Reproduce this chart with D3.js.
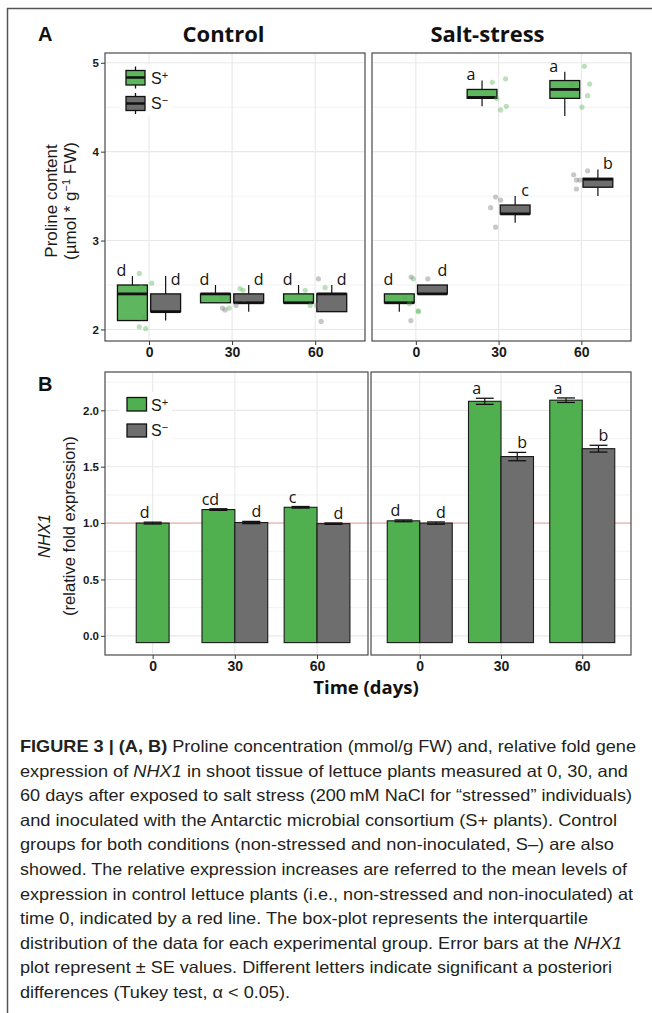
<!DOCTYPE html>
<html><head><meta charset="utf-8">
<script src="https://cdn.jsdelivr.net/npm/d3@7"></script>
<style>body{margin:0;background:#fff}</style>
</head><body><svg id="c" width="652" height="1013"></svg>
<script>
// ---------------- DATA ----------------
const times = ["0", "30", "60"];
const groups = ["S+", "S−"];
const conditions = ["Control", "Salt-stress"];
const prolineTicks = [2, 3, 4, 5];
const nhxTicks = [0.0, 0.5, 1.0, 1.5, 2.0];

// Proline box stats per time: [lower whisker, Q1, median, Q3, upper whisker]
const prolineControlSplus  = [[2.1, 2.1, 2.4, 2.5, 2.6], [2.3, 2.3, 2.4, 2.4, 2.5], [2.3, 2.3, 2.3, 2.4, 2.5]];
const prolineControlSminus = [[2.1, 2.2, 2.2, 2.4, 2.6], [2.2, 2.3, 2.3, 2.4, 2.5], [2.2, 2.2, 2.4, 2.4, 2.5]];
const prolineSaltSplus     = [[2.2, 2.3, 2.3, 2.4, 2.4], [4.51, 4.6, 4.61, 4.7, 4.8], [4.4, 4.6, 4.7, 4.8, 4.9]];
const prolineSaltSminus    = [[2.4, 2.4, 2.4, 2.5, 2.5], [3.2, 3.3, 3.3, 3.4, 3.5], [3.5, 3.6, 3.69, 3.7, 3.8]];

// Raw observations: [time index, x jitter (category units), value]
const obsControlSplus  = [[0,-0.117,2.63],[0,-0.096,2.48],[0,0.033,2.52],[0,-0.057,2.14],[0,-0.117,2.03],[0,-0.04,2.01],
                          [1,-0.124,2.35],[1,-0.064,2.35],[1,-0.036,2.24],[1,0.096,2.46],[1,0.133,2.44],
                          [2,-0.12,2.44],[2,-0.06,2.27],[2,0.12,2.47]];
const obsControlSminus = [[0,0.1,2.28],
                          [1,-0.117,2.24],[1,-0.084,2.22],[1,0.048,2.27],[1,0.148,2.34],
                          [2,0.04,2.57],[2,0.072,2.09],[2,0.02,2.27]];
const obsSaltSplus     = [[0,-0.03,2.57],[0,-0.13,2.36],[0,-0.077,2.29],[0,0.028,2.21],[0,0.031,2.2],
                          [1,-0.076,4.78],[1,0.084,4.82],[1,-0.024,4.60],[1,0.024,4.47],[1,0.093,4.51],
                          [2,0.036,4.96],[2,0.1,4.76],[2,0.076,4.63],[2,0.008,4.50],[2,-0.112,4.75]];
const obsSaltSminus    = [[0,-0.057,2.59],[0,-0.06,2.1],[0,0.145,2.57],
                          [1,-0.036,3.49],[1,0.024,3.455],[1,-0.096,3.37],[1,-0.036,3.15],
                          [2,-0.093,3.74],[2,-0.06,3.68],[2,-0.02,3.68],[2,0.076,3.785],[2,-0.06,3.58]];

const prolineLettersControlSplus  = ["d", "d", "d"];
const prolineLettersControlSminus = ["d", "d", "d"];
const prolineLettersSaltSplus     = ["d", "a", "a"];
const prolineLettersSaltSminus    = ["d", "c", "b"];

// NHX1 relative fold expression (mean, SE)
const nhxControlSplus    = [1.00, 1.12, 1.14];
const nhxControlSplusSE  = [0.008, 0.007, 0.007];
const nhxControlSminus   = [null, 1.005, 0.995];
const nhxControlSminusSE = [null, 0.01, 0.006];
const nhxSaltSplus       = [1.02, 2.08, 2.09];
const nhxSaltSplusSE     = [0.008, 0.027, 0.02];
const nhxSaltSminus      = [1.00, 1.59, 1.66];
const nhxSaltSminusSE    = [0.01, 0.037, 0.03];
const nhxLettersControlSplus  = ["d", "cd", "c"];
const nhxLettersControlSminus = [null, "d", "d"];
const nhxLettersSaltSplus     = ["d", "a", "a"];
const nhxLettersSaltSminus    = ["d", "b", "b"];
const nhxReference = 1.0;
const nhxBarBase = -0.06;

// ---------------- STYLE ----------------
const GREEN_BOX = "#5eb75e", GREEN_BAR = "#50af4e", GREY = "#6e6e6e";
const GRID = "#e8e8e8", BORDER = "#4a4a4a";
const svg = d3.select("#c");
const W = 652, H = 1013;

// figure frame
svg.append("line").attr("x1", 7).attr("x2", W).attr("y1", 8.5).attr("y2", 8.5).attr("stroke", "#555").attr("stroke-width", 1.5);
svg.append("line").attr("x1", 7.5).attr("x2", 7.5).attr("y1", 8).attr("y2", H).attr("stroke", "#555").attr("stroke-width", 1.5);

const yA = d3.scaleLinear().domain([1.87, 5.11]).range([341, 53]);
const yB = d3.scaleLinear().domain([-0.17, 2.34]).range([655, 372]);
const xAL = d3.scaleLinear().domain([0.47, 3.6]).range([105, 365]);
const xAR = d3.scaleLinear().domain([0.47, 3.6]).range([372, 631]);
const xBL = d3.scaleLinear().domain([0.42, 3.62]).range([105, 368]);
const xBR = d3.scaleLinear().domain([0.4, 3.6]).range([371, 631]);

function panelBase(x, y, majors, minors, showY) {
  const [x0, x1] = x.range(), [y0, y1] = y.range();
  const g = svg.append("g");
  g.append("rect").attr("x", x0).attr("y", y1).attr("width", x1 - x0).attr("height", y0 - y1).attr("fill", "#fff");
  g.selectAll(".mn").data(minors.filter(v => v >= y.domain()[0] && v <= y.domain()[1])).join("line")
    .attr("x1", x0).attr("x2", x1).attr("y1", d => y(d)).attr("y2", d => y(d)).attr("stroke", "#efefef").attr("stroke-width", 0.8);
  g.selectAll(".mj").data(majors).join("line")
    .attr("x1", x0).attr("x2", x1).attr("y1", d => y(d)).attr("y2", d => y(d)).attr("stroke", GRID).attr("stroke-width", 1.1);
  g.selectAll(".vx").data([1, 2, 3]).join("line")
    .attr("x1", d => x(d)).attr("x2", d => x(d)).attr("y1", y1).attr("y2", y0).attr("stroke", GRID).attr("stroke-width", 1.1);
  // x axis
  const ax = svg.append("g").attr("transform", `translate(0,${y0})`)
    .call(d3.axisBottom(x).tickValues([1, 2, 3]).tickFormat(i => times[i - 1]).tickSize(4).tickPadding(2));
  ax.select(".domain").remove();
  ax.selectAll(".tick line").attr("stroke", "#333");
  ax.selectAll("text").attr("font-family", "Liberation Sans, Arial, sans-serif").attr("font-weight", "bold").attr("font-size", 14).attr("fill", "#1a1a1a");
  if (showY) {
    const ay = svg.append("g").attr("transform", `translate(${x0},0)`)
      .call(d3.axisLeft(y).tickValues(majors).tickFormat(showY).tickSize(4).tickPadding(2));
    ay.select(".domain").remove();
    ay.selectAll(".tick line").attr("stroke", "#333");
    ay.selectAll("text").attr("font-family", "Liberation Sans, Arial, sans-serif").attr("font-weight", "bold").attr("font-size", 11.5).attr("fill", "#1a1a1a");
  }
  return g;
}
function panelBorder(x, y) {
  const [x0, x1] = x.range(), [y0, y1] = y.range();
  svg.append("rect").attr("x", x0).attr("y", y1).attr("width", x1 - x0).attr("height", y0 - y1)
    .attr("fill", "none").attr("stroke", BORDER).attr("stroke-width", 1.2);
}

// ---------------- PANEL A (boxplots) ----------------
const dodgeA = 0.2, boxW = 0.36;
function boxPanel(x, stats, obs, letters, showY) {
  panelBase(x, yA, prolineTicks, [1.5, 2.5, 3.5, 4.5, 5.5], showY);
  const g = svg.append("g");
  [0, 1].forEach(k => {
    const col = k === 0 ? GREEN_BOX : GREY;
    const off = k === 0 ? -dodgeA : dodgeA;
    stats[k].forEach((s, i) => {
      const cx = x(i + 1 + off), hw = (x(boxW) - x(0)) / 2;
      g.append("line").attr("x1", cx).attr("x2", cx).attr("y1", yA(s[0])).attr("y2", yA(s[4])).attr("stroke", "#111").attr("stroke-width", 1.2);
      g.append("rect").attr("x", cx - hw).attr("width", 2 * hw).attr("y", yA(s[3])).attr("height", yA(s[1]) - yA(s[3]))
        .attr("fill", col).attr("stroke", "#111").attr("stroke-width", 1.3);
      g.append("line").attr("x1", cx - hw).attr("x2", cx + hw).attr("y1", yA(s[2])).attr("y2", yA(s[2])).attr("stroke", "#111").attr("stroke-width", 2.8);
      g.append("text").attr("x", cx + (k === 0 ? -11 : 10)).attr("y", yA(s[3]) - 9).attr("text-anchor", "middle")
        .attr("font-family", "Open Sans, sans-serif").attr("font-size", 16).attr("fill", "#111").text(letters[k][i]);
    });
  });
  [0, 1].forEach(k => {
    g.selectAll(null).data(obs[k]).join("circle")
      .attr("cx", d => x(d[0] + 1 + d[1])).attr("cy", d => yA(d[2])).attr("r", 2.6)
      .attr("fill", k === 0 ? "#4daf4a" : "#6e6e6e").attr("opacity", 0.38);
  });
  panelBorder(x, yA);
}
boxPanel(xAL, [prolineControlSplus, prolineControlSminus], [obsControlSplus, obsControlSminus],
  [prolineLettersControlSplus, prolineLettersControlSminus], d => d3.format("d")(d));
boxPanel(xAR, [prolineSaltSplus, prolineSaltSminus], [obsSaltSplus, obsSaltSminus],
  [prolineLettersSaltSplus, prolineLettersSaltSminus], null);

// legend A
const lgA = svg.append("g");
lgA.append("rect").attr("x", 120).attr("y", 64).attr("width", 52).attr("height", 52).attr("fill", "#fff");
[[GREEN_BOX, 70.5, 85, 77.5, 66.5, 88.5, 83.5], [GREY, 96.5, 110.5, 103.5, 93, 114, 108.5]].forEach((r, k) => {
  lgA.append("line").attr("x1", 135.5).attr("x2", 135.5).attr("y1", r[4]).attr("y2", r[5]).attr("stroke", "#111").attr("stroke-width", 1.3);
  lgA.append("rect").attr("x", 126).attr("y", r[1]).attr("width", 19).attr("height", r[2] - r[1]).attr("fill", r[0]).attr("stroke", "#111").attr("stroke-width", 1.3);
  lgA.append("line").attr("x1", 126).attr("x2", 145).attr("y1", r[3]).attr("y2", r[3]).attr("stroke", "#111").attr("stroke-width", 2.5);
  const t = lgA.append("text").attr("x", 151).attr("y", r[6]).attr("font-family", "Liberation Sans, Arial, sans-serif").attr("font-size", 16).attr("fill", "#1a1a1a");
  t.append("tspan").text(groups[k][0]);
  t.append("tspan").attr("font-size", 11).attr("dy", -5).text(k === 0 ? "+" : "−");
});

// ---------------- PANEL B (bars) ----------------
const barW = 0.4;
function barPanel(x, means, ses, letters, showY) {
  panelBase(x, yB, nhxTicks, [-0.25, 0.25, 0.75, 1.25, 1.75, 2.25], showY);
  return () => {
    const g = svg.append("g");
    [0, 1].forEach(k => {
      means[k].forEach((m, i) => {
        if (m === null) return;
        const other = means[1 - k][i];
        const off = other === null ? 0 : (k === 0 ? -barW / 2 : barW / 2);
        const cx = x(i + 1 + off), hw = (x(barW) - x(0)) / 2;
        g.append("rect").attr("x", cx - hw).attr("width", 2 * hw).attr("y", yB(m)).attr("height", yB(nhxBarBase) - yB(m))
          .attr("fill", k === 0 ? GREEN_BAR : GREY).attr("stroke", "#1a1a1a").attr("stroke-width", 1.1);
        const se = ses[k][i], ew = (x(0.22) - x(0)) / 2;
        g.append("line").attr("x1", cx).attr("x2", cx).attr("y1", yB(m - se)).attr("y2", yB(m + se)).attr("stroke", "#111").attr("stroke-width", 1.2);
        [m - se, m + se].forEach(v => g.append("line").attr("x1", cx - ew).attr("x2", cx + ew).attr("y1", yB(v)).attr("y2", yB(v)).attr("stroke", "#111").attr("stroke-width", 1.3));
        g.append("text").attr("x", cx + (k === 0 ? -8 : 5)).attr("y", yB(m + se) - 4).attr("text-anchor", "middle")
          .attr("font-family", "Open Sans, sans-serif").attr("font-size", 16).attr("fill", "#111").text(letters[k][i]);
      });
    });
    panelBorder(x, yB);
  };
}
const finL = barPanel(xBL, [nhxControlSplus, nhxControlSminus], [nhxControlSplusSE, nhxControlSminusSE],
  [nhxLettersControlSplus, nhxLettersControlSminus], d => d3.format(".1f")(d));
const finR = barPanel(xBR, [nhxSaltSplus, nhxSaltSminus], [nhxSaltSplusSE, nhxSaltSminusSE],
  [nhxLettersSaltSplus, nhxLettersSaltSminus], null);
// reference line
svg.append("line").attr("x1", 105).attr("x2", 631).attr("y1", yB(nhxReference)).attr("y2", yB(nhxReference))
  .attr("stroke", "#f08080").attr("stroke-opacity", 0.7).attr("stroke-width", 1);
finL(); finR();

// legend B
const lgB = svg.append("g");
lgB.append("rect").attr("x", 119).attr("y", 392).attr("width", 53).attr("height", 48).attr("fill", "#fff");
[[GREEN_BAR, 397.5, 411, 410.7], [GREY, 424, 437, 435.7]].forEach((r, k) => {
  lgB.append("rect").attr("x", 127).attr("y", r[1]).attr("width", 19.5).attr("height", r[2] - r[1]).attr("fill", r[0]).attr("stroke", "#111").attr("stroke-width", 1.3);
  const t = lgB.append("text").attr("x", 151).attr("y", r[3]).attr("font-family", "Liberation Sans, Arial, sans-serif").attr("font-size", 16).attr("fill", "#1a1a1a");
  t.append("tspan").text(groups[k][0]);
  t.append("tspan").attr("font-size", 11).attr("dy", -5).text(k === 0 ? "+" : "−");
});

// ---------------- TITLES ----------------
const bold = (x, y, s, size, fam, anchor) => svg.append("text").attr("x", x).attr("y", y).attr("font-family", fam)
  .attr("font-weight", "bold").attr("font-size", size).attr("text-anchor", anchor || "start").attr("fill", "#111").text(s);
bold(38, 40.5, "A", 20, "Liberation Sans, Arial, sans-serif");
bold(38, 390.5, "B", 20, "Liberation Sans, Arial, sans-serif");
bold(223.5, 42, conditions[0], 22, "Open Sans, sans-serif", "middle");
bold(487.5, 42, conditions[1], 22, "Open Sans, sans-serif", "middle");
bold(366, 694, "Time (days)", 18.5, "Open Sans, sans-serif", "middle");

function vtext(x, y, size) {
  return svg.append("text").attr("transform", `translate(${x},${y}) rotate(-90)`).attr("text-anchor", "middle")
    .attr("font-family", "Liberation Sans, Arial, sans-serif").attr("font-size", size).attr("fill", "#1a1a1a");
}
vtext(57, 201, 17).text("Proline content");
const yt2 = vtext(76, 201, 17);
yt2.append("tspan").text("(µmol * g");
yt2.append("tspan").attr("font-size", 11).attr("dy", -6).text("−1");
yt2.append("tspan").attr("dy", 6).text(" FW)");
vtext(50, 536, 16.5).attr("font-style", "italic").text("NHX1");
vtext(75, 526, 16.5).text("(relative fold expression)");

// ---------------- CAPTION ----------------
const captionLines = [
  [[["FIGURE 3 | (A, B)", "b"], [" Proline concentration (mmol/g FW) and, relative fold gene", ""]], 616],
  [[["expression of ", ""], ["NHX1", "i"], [" in shoot tissue of lettuce plants measured at 0, 30, and", ""]], 608],
  [[["60 days after exposed to salt stress (200\u2009mM NaCl for \u201cstressed\u201d individuals)", ""]], 612],
  [[["and inoculated with the Antarctic microbial consortium (S+ plants). Control", ""]], 597],
  [[["groups for both conditions (non-stressed and non-inoculated, S\u2013) are also", ""]], 594],
  [[["showed. The relative expression increases are referred to the mean levels of", ""]], 607],
  [[["expression in control lettuce plants (i.e., non-stressed and non-inoculated) at", ""]], 613],
  [[["time 0, indicated by a red line. The box-plot represents the interquartile", ""]], 568],
  [[["distribution of the data for each experimental group. Error bars at the ", ""], ["NHX1", "i"]], 602],
  [[["plot represent \u00b1 SE values. Different letters indicate significant a posteriori", ""]], 592],
  [[["differences (Tukey test, \u03b1 < 0.05).", ""]], 270]
];
captionLines.forEach((ln, i) => {
  const t = svg.append("text").attr("x", 20).attr("y", 752 + i * 24.6)
    .attr("font-family", "Liberation Sans, Arial, sans-serif").attr("font-size", 16.5).attr("fill", "#231f20")
    .attr("textLength", ln[1]).attr("lengthAdjust", "spacingAndGlyphs");
  ln[0].forEach(seg => {
    const s = t.append("tspan").text(seg[0]);
    if (seg[1] === "b") s.attr("font-weight", "bold");
    if (seg[1] === "i") s.attr("font-style", "italic");
  });
});
</script></body></html>
